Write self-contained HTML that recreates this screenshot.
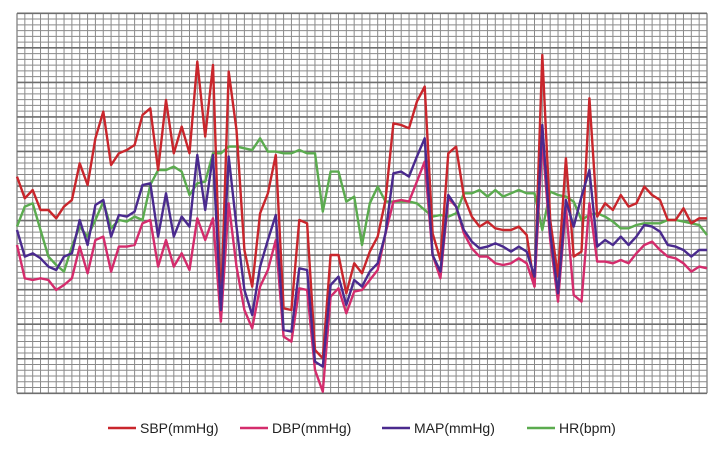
<!DOCTYPE html>
<html><head><meta charset="utf-8"><style>
body{margin:0;background:#fff;width:723px;height:449px;overflow:hidden;font-family:"Liberation Sans",sans-serif}
</style></head><body>
<svg id="chart" width="723" height="449" xmlns="http://www.w3.org/2000/svg">
<g id="grid"></g>
<g id="series"></g>
<g id="legend"></g>
</svg>
<script>
const sbp=[130,117,122,110,110,105,112,116,138,125,153,169,137,144,146,149,167,171,134,176,144,160,144,199,154,197,50,193,158,86,64,108,120,143,51,50,104,102,26,21,83,83,60,78,72,85,94,116,162,161,159,175,184,96,80,144,148,118,106,100,103,99,98,98,100,95,64,203,104,70,141,82,85,177,106,114,110,119,112,114,124,119,116,104,104,111,102,105,105];
const dbp=[89,69,68,69,68,62,65,69,88,72,92,94,73,88,88,89,102,104,76,92,76,84,74,105,92,105,43,114,76,50,39,64,74,92,34,31,63,62,14,1,58,63,48,61,62,68,74,96,115,116,115,127,139,83,69,117,112,96,87,82,82,78,77,78,81,78,64,152,92,55,112,59,55,114,79,79,78,80,78,84,89,91,86,82,81,78,73,76,75];
const map=[98,82,84,81,76,74,82,84,104,89,113,116,94,107,106,109,125,126,94,120,94,106,100,143,110,143,50,142,100,62,47,76,92,107,38,37,75,74,19,16,65,70,53,68,64,73,78,96,132,133,130,142,153,83,73,119,112,98,91,87,88,90,88,85,88,85,70,161,96,60,116,100,118,134,88,92,89,94,89,94,101,100,97,89,88,86,82,86,86];
const hr=[100,112,114,98,82,77,73,88,100,94,104,115,99,104,103,106,104,125,134,134,136,133,119,126,127,144,144,148,148,147,146,153,145,145,144,144,146,144,144,109,133,133,115,118,89,114,124,115,115,115,115,114,110,106,107,106,108,120,120,122,118,122,118,120,122,120,120,98,121,119,118,115,104,107,108,106,103,99,99,101,102,102,102,104,104,103,102,101,95];
const seriesNames=["SBP(mmHg)","DBP(mmHg)","MAP(mmHg)","HR(bpm)"];
const yDomain=[0,228];

const X0=17,X1=707,Y0=393.3,Y1=13.3;
const N=sbp.length;
const xs=i=>X0+(X1-X0)*i/(N-1);
const ys=v=>Y0-(v-yDomain[0])/(yDomain[1]-yDomain[0])*(Y0-Y1);
const NS="http://www.w3.org/2000/svg";
const grid=document.getElementById('grid');
for(let i=0;i<N;i++){
  const l=document.createElementNS(NS,'line');
  const x=xs(i);
  l.setAttribute('x1',x);l.setAttribute('x2',x);l.setAttribute('y1',Y1);l.setAttribute('y2',Y0);
  l.setAttribute('stroke','#8a8a8a');l.setAttribute('stroke-width',(i===0||i===N-1)?1.4:1);
  
  
  grid.appendChild(l);
}
const rows=66;
for(let j=0;j<=rows;j++){
  const l=document.createElementNS(NS,'line');
  const y=Y1+(Y0-Y1)*j/rows;
  l.setAttribute('x1',X0);l.setAttribute('x2',X1);l.setAttribute('y1',y);l.setAttribute('y2',y);
  l.setAttribute('stroke',j%6===0?'#6e6e6e':'#8a8a8a');l.setAttribute('stroke-width',j%6===0?1.6:1);
  
  
  grid.appendChild(l);
}
const colors=["#c9262c","#d42c6c","#4a2a8e","#5bab4f"];
const data=[sbp,dbp,map,hr];
const keys=["sbp-line","dbp-line","map-line","hr-line"];
const sg=document.getElementById('series');
const order=[3,0,1,2];
order.forEach(k=>{
  const p=document.createElementNS(NS,'polyline');
  p.setAttribute('points',data[k].map((v,i)=>xs(i).toFixed(1)+','+ys(v).toFixed(1)).join(' '));
  p.setAttribute('fill','none');p.setAttribute('stroke',colors[k]);p.setAttribute('stroke-width',2.4);
  p.setAttribute('stroke-linejoin','round');
  
  
  sg.appendChild(p);
});
const lg=document.getElementById('legend');
const lx=[108,240,382,527];
seriesNames.forEach((n,k)=>{
  const g=document.createElementNS(NS,'g');
  
  
  const l=document.createElementNS(NS,'line');
  l.setAttribute('x1',lx[k]);l.setAttribute('x2',lx[k]+28);l.setAttribute('y1',428);l.setAttribute('y2',428);
  l.setAttribute('stroke',colors[k]);l.setAttribute('stroke-width',2.4);
  g.appendChild(l);
  const t=document.createElementNS(NS,'text');
  t.setAttribute('x',lx[k]+32);t.setAttribute('y',433);
  t.setAttribute('font-size','14');t.setAttribute('fill','#222');
  t.setAttribute('font-family','Liberation Sans, sans-serif');
  t.textContent=n;
  g.appendChild(t);
  lg.appendChild(g);
});
</script>
</body></html>
